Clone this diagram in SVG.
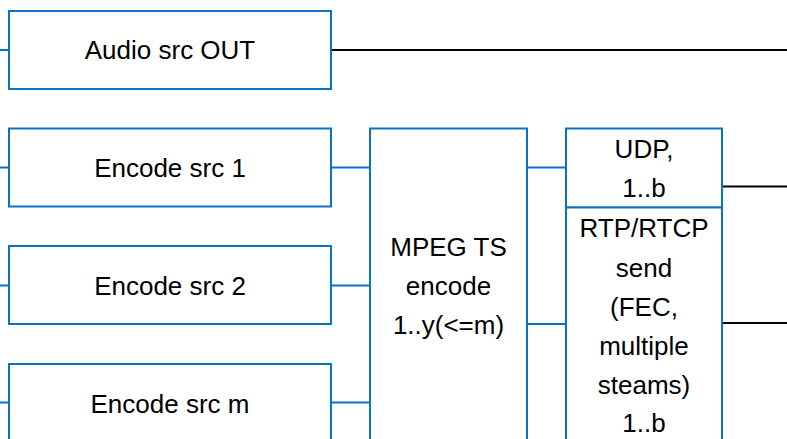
<svg xmlns="http://www.w3.org/2000/svg" width="787" height="439" viewBox="0 0 787 439">
<style>
.box{fill:#fff;stroke:#0B72C6;stroke-width:2}
.b{stroke:#0B72C6;stroke-width:2;fill:none}
.k{stroke:#000;stroke-width:2;fill:none}
text{font-family:"Liberation Sans",Arial,sans-serif;font-size:26px;fill:#000;text-anchor:middle}
</style>
<rect width="787" height="439" fill="#fff"/>
<g id="connectors">
<line class="b" x1="0" y1="50" x2="9" y2="50"/>
<line class="b" x1="0" y1="167.5" x2="9" y2="167.5"/>
<line class="b" x1="0" y1="285.5" x2="9" y2="285.5"/>
<line class="b" x1="0" y1="402.5" x2="9" y2="402.5"/>
<line class="k" x1="331" y1="50" x2="787" y2="50"/>
<line class="b" x1="331" y1="167.5" x2="370" y2="167.5"/>
<line class="b" x1="331" y1="285.5" x2="370" y2="285.5"/>
<line class="b" x1="331" y1="402.5" x2="370" y2="402.5"/>
<line class="b" x1="527" y1="167.5" x2="566" y2="167.5"/>
<line class="b" x1="527" y1="324" x2="566" y2="324"/>
<line class="k" x1="722" y1="186.5" x2="787" y2="186.5"/>
<line class="k" x1="722" y1="323" x2="787" y2="323"/>
</g>
<g id="audio">
<rect class="box" x="9" y="11" width="322" height="78"/>
<text x="170" y="59">Audio src OUT</text>
</g>
<g id="enc1">
<rect class="box" x="9" y="128.5" width="322" height="78"/>
<text x="170" y="177">Encode src 1</text>
</g>
<g id="enc2">
<rect class="box" x="9" y="246" width="322" height="78"/>
<text x="170" y="295">Encode src 2</text>
</g>
<g id="encm">
<rect class="box" x="9" y="364" width="322" height="90"/>
<text x="170" y="413">Encode src m</text>
</g>
<g id="mpeg">
<rect class="box" x="370" y="128.5" width="157" height="330"/>
<text x="448.5" y="256">MPEG TS</text>
<text x="448.5" y="295">encode</text>
<text x="448.5" y="334">1..y(&lt;=m)</text>
</g>
<g id="udp">
<rect class="box" x="566" y="128.5" width="156" height="79"/>
<text x="644" y="158">UDP,</text>
<text x="644" y="197">1..b</text>
</g>
<g id="rtp">
<rect class="box" x="566" y="207.5" width="156" height="250"/>
<text x="644" y="237">RTP/RTCP</text>
<text x="644" y="277">send</text>
<text x="644" y="316">(FEC,</text>
<text x="644" y="355">multiple</text>
<text x="644" y="394">steams)</text>
<text x="644" y="432">1..b</text>
</g>
</svg>
